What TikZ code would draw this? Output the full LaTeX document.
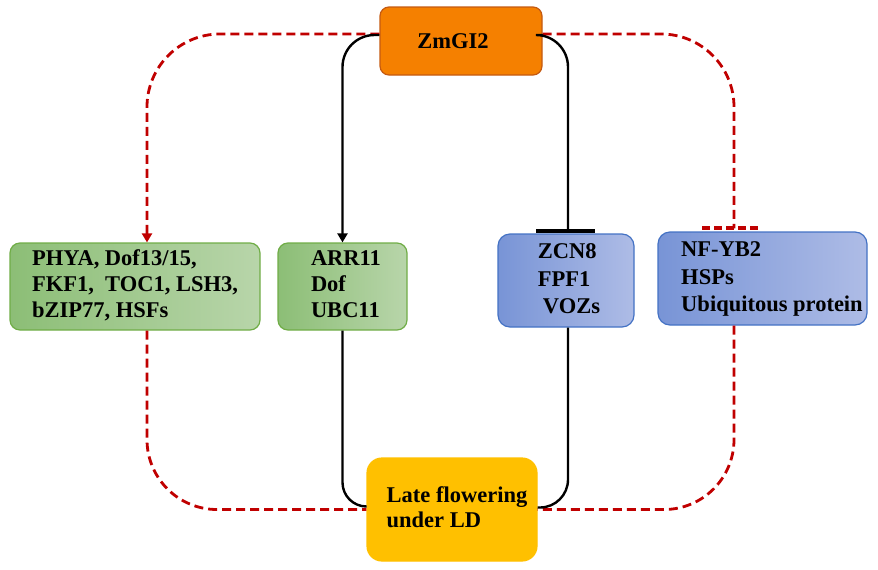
\documentclass[tikz,border=0pt]{standalone}
\usepackage{fontspec}
\setmainfont{Liberation Serif}
\usetikzlibrary{arrows.meta,calc}
\definecolor{redline}{RGB}{192,0,0}
\definecolor{gborder}{RGB}{112,173,71}
\definecolor{gleft}{RGB}{140,190,118}
\definecolor{gright}{RGB}{184,213,170}
\definecolor{bborder}{RGB}{68,114,196}
\definecolor{bleft}{RGB}{120,148,214}
\definecolor{bright}{RGB}{174,188,230}
\definecolor{orangefill}{RGB}{245,128,0}
\definecolor{orangeborder}{RGB}{197,90,17}
\definecolor{goldfill}{RGB}{255,192,0}
\begin{document}
\begin{tikzpicture}[x=1pt,y=-1pt,
  box/.style={rectangle, rounded corners=10pt, inner sep=0pt, line width=1.2pt,
    font=\bfseries\fontsize{22.5}{26}\selectfont},
  greenbox/.style={box, draw=gborder, left color=gleft, right color=gright},
  bluebox/.style={box, draw=bborder, left color=bleft, right color=bright, rounded corners=12pt,
    font=\bfseries\fontsize{22.5}{27.5}\selectfont},
  redcon/.style={draw=redline, line width=2.8pt, dash pattern=on 9pt off 5pt},
  blackcon/.style={draw=black, line width=2.4pt},
  redtip/.style={-{Triangle[length=9pt,width=10pt]}},
  blacktip/.style={-{Triangle[length=9pt,width=10pt]}}
]
\useasboundingbox (0,0) rectangle (878,570);

\node[box, draw=orangeborder, fill=orangefill, rounded corners=9pt,
  minimum width=162pt, minimum height=68pt] (zm) at (461,41) {ZmGI2\hspace*{16pt}};
\node[greenbox, minimum width=250pt, minimum height=87pt] (g1) at (135,286.5)
  {\begin{tabular}{@{}l@{}}PHYA, Dof13/15,\\FKF1,\ \ TOC1, LSH3,\\bZIP77, HSFs\end{tabular}};
\node[greenbox, minimum width=129pt, minimum height=87pt] (arr) at (342.5,286.5)
  {\begin{tabular}{@{\hspace{7pt}}l@{}}ARR11\\Dof\\UBC11\end{tabular}};
\node[bluebox, minimum width=136pt, minimum height=93pt] (zcn) at (566,280.5)
  {\begin{tabular}{@{\hspace{6pt}}l@{}}ZCN8\\FPF1\\\hspace*{5pt}VOZs\end{tabular}};
\node[bluebox, minimum width=209pt, minimum height=93pt] (nf) at (762.5,278.5)
  {\begin{tabular}{@{\hspace{19pt}}l@{}}NF-YB2\\HSPs\\Ubiquitous protein\end{tabular}};
\node[box, draw=goldfill, fill=goldfill, rounded corners=15pt, font=\bfseries\fontsize{22.5}{25}\selectfont,
  minimum width=170pt, minimum height=103pt] (lf) at (452,509.5)
  {\begin{tabular}{@{\hspace{10pt}}l@{}}Late flowering\\under LD\end{tabular}};

% red dashed connectors
\draw[redcon, redtip, rounded corners=73pt] ([yshift=7pt]zm.west) -| ([xshift=12pt]g1.north);
\draw[redcon, rounded corners=73pt] ([yshift=7pt]zm.east) -| ([xshift=-28.5pt,yshift=3pt]nf.north);
\draw[redcon, line width=4pt, dash pattern=on 8pt off 4pt] ([xshift=-60.5pt,yshift=3pt]nf.north) -- ([xshift=-2.5pt,yshift=3pt]nf.north);
\draw[redcon, rounded corners=70pt] ([xshift=12pt]g1.south) |- (lf.west);
\draw[redcon, rounded corners=70pt] ([xshift=-28.5pt]nf.south) |- (lf.east);

% black connectors
\draw[blackcon, blacktip, rounded corners=32pt] ([yshift=6pt]zm.west) -| (arr.north);
\draw[blackcon, rounded corners=32pt] ([yshift=6pt]zm.east) -| ([xshift=2pt,yshift=2pt]zcn.north);
\draw[blackcon, line width=4pt] ([xshift=-30pt,yshift=2pt]zcn.north) -- ([xshift=29pt,yshift=2pt]zcn.north);
\draw[blackcon, rounded corners=24pt] (arr.south) |- ([yshift=3pt]lf.west);
\draw[blackcon, rounded corners=28pt] ([xshift=2pt]zcn.south) |- ([yshift=2pt]lf.east);
\end{tikzpicture}
\end{document}
